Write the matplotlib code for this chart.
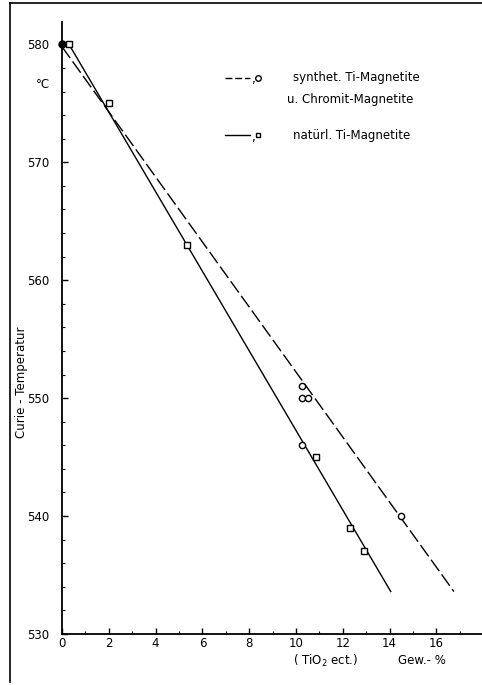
import matplotlib.pyplot as plt
from matplotlib.lines import Line2D

# synthet. Ti-Magnetite u. Chromit-Magnetite (circles)
synth_x = [10.25, 10.25, 10.5, 10.25, 14.5]
synth_y = [551.0, 550.0, 550.0, 546.0, 540.0]
# natuerl. Ti-Magnetite (squares)
nat_x = [0.3, 2.0, 5.35, 10.85, 12.3, 12.9]
nat_y = [580.0, 575.0, 563.0, 545.0, 539.0, 537.0]
# start point (filled)
start_x = [0.0]
start_y = [580.0]
# fitted lines
dash_x = [0.0, 16.75]
dash_y = [579.8, 533.6]
solid_x = [0.3, 14.05]
solid_y = [580.0, 533.6]

x_ticks = [0, 2, 4, 6, 8, 10, 12, 14, 16]
y_ticks = [530, 540, 550, 560, 570, 580]

W, H = 482, 685
fig = plt.figure(figsize=(W / 100, H / 100), dpi=100)
ax = fig.add_axes([62 / W, (H - 634) / H, (W - 62) / W, (634 - 22) / H])

ax.plot(dash_x, dash_y, color='black', lw=1.0, dashes=(10, 3))
ax.plot(solid_x, solid_y, color='black', lw=1.0)
ax.plot(synth_x, synth_y, 'o', ms=4.5, mfc='white', mec='black', mew=1.0)
ax.plot(nat_x, nat_y, 's', ms=4, mfc='white', mec='black', mew=1.0)
ax.plot(start_x, start_y, 'o', ms=5, color='black', clip_on=False)

ax.set_xlim(0, 17.95)
ax.set_ylim(530, 581.9)
ax.set_xticks(x_ticks)
ax.set_yticks(y_ticks)
ax.set_xticks(range(1, 18, 2), minor=True)
ax.set_yticks(range(532, 582, 2), minor=True)
ax.tick_params(which='major', direction='in', length=4, width=1, labelsize=8.5)
ax.tick_params(axis='x', which='major', pad=2)
ax.tick_params(axis='y', which='major', pad=9)
ax.tick_params(which='minor', direction='in', length=2.5, width=0.8)
ax.spines['top'].set_visible(False)
ax.spines['right'].set_visible(False)
for s in ('left', 'bottom'):
    ax.spines[s].set_linewidth(1.3)

# text
fig.text(36 / W, 1 - 84 / H, '°C', fontsize=8.5, va='center', ha='left')
fig.text(22 / W, 1 - 382 / H, 'Curie - Temperatur', rotation=90, fontsize=8.5,
         va='center', ha='center')
fig.text(293 / W, 1 - 661 / H, '( TiO$_2$ ect.)', fontsize=8.5, va='center', ha='left')
fig.text(398 / W, 1 - 661 / H, 'Gew.- %', fontsize=8.5, va='center', ha='left')

# legend drawn by hand
def fx(px):
    return px / W

def fy(py):
    return 1 - py / H

fig.add_artist(Line2D([fx(225), fx(250)], [fy(78), fy(78)], color='black', lw=1.0, dashes=(5, 2)))
fig.text(fx(251), fy(80), ',', fontsize=8.5, va='center')
fig.add_artist(Line2D([fx(258)], [fy(78)], marker='o', ms=4, mfc='white', mec='black', lw=0))
fig.text(fx(293), fy(78), 'synthet. Ti-Magnetite', fontsize=8.5, va='center')
fig.text(fx(287), fy(100), 'u. Chromit-Magnetite', fontsize=8.5, va='center')
fig.add_artist(Line2D([fx(225), fx(250)], [fy(135), fy(135)], color='black', lw=1.0))
fig.text(fx(251), fy(137), ',', fontsize=8.5, va='center')
fig.add_artist(Line2D([fx(258)], [fy(135)], marker='s', ms=3.5, mfc='white', mec='black', lw=0))
fig.text(fx(293), fy(135), 'natürl. Ti-Magnetite', fontsize=8.5, va='center')

# page frame from the scan
fig.add_artist(Line2D([fx(10), fx(482)], [fy(3), fy(3)], color='black', lw=1.2))
fig.add_artist(Line2D([fx(10), fx(10)], [fy(3), fy(682)], color='black', lw=1.2))

fig.savefig('out.png', dpi=100)
